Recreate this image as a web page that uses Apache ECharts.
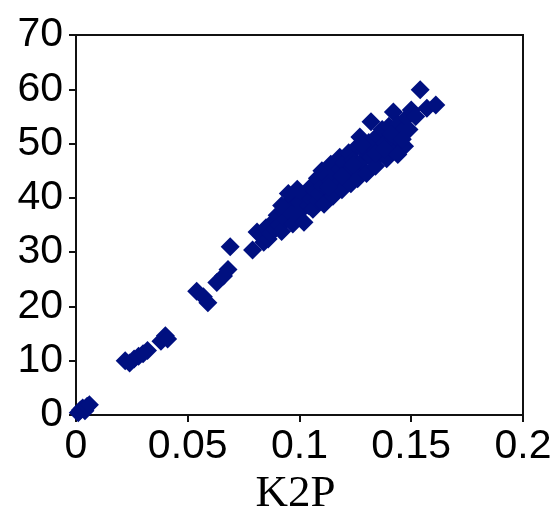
<!DOCTYPE html>
<html>
<head>
<meta charset="utf-8">
<script src="https://cdn.jsdelivr.net/npm/echarts@6/dist/echarts.min.js"></script>
<style>
  html, body { margin: 0; padding: 0; background: #fff; }
  #chart { width: 559px; height: 510px; }
</style>
</head>
<body>
<div id="chart"></div>
<script>
// K2P distance (x) vs value (y)
const k2p = [
  0.001, 0.002, 0.003, 0.004, 0.005, 0.006,
  0.022, 0.024, 0.026, 0.028, 0.030, 0.032,
  0.038, 0.040, 0.041,
  0.054, 0.057, 0.059, 0.063, 0.066, 0.068, 0.069,
  0.079, 0.081, 0.083, 0.084, 0.085, 0.086, 0.087, 0.088, 0.089,
  0.090, 0.091, 0.092, 0.093, 0.094, 0.095, 0.096, 0.097, 0.097, 0.098, 0.099,
  0.100, 0.100, 0.101, 0.102, 0.103, 0.104, 0.105, 0.105, 0.106, 0.107, 0.108, 0.108, 0.109,
  0.110, 0.110, 0.111, 0.112, 0.113, 0.114, 0.114, 0.115, 0.116, 0.117, 0.118, 0.118, 0.119,
  0.120, 0.121, 0.122, 0.122, 0.123, 0.124, 0.125, 0.126, 0.126, 0.127, 0.128, 0.129,
  0.130, 0.131, 0.132, 0.132, 0.133, 0.134, 0.135, 0.136, 0.137, 0.138, 0.139,
  0.140, 0.141, 0.142, 0.142, 0.143, 0.144, 0.145, 0.146, 0.147, 0.148,
  0.150, 0.152, 0.154, 0.157, 0.161,
  0.134, 0.138, 0.141, 0.144, 0.146, 0.149, 0.128, 0.124, 0.119, 0.113,
  0.092, 0.095, 0.099
];
const values = [
  0.4, 0.9, 1.3, 0.8, 1.6, 1.9,
  10.0, 9.6, 10.3, 10.8, 11.3, 11.9,
  13.6, 14.6, 14.0,
  22.8, 21.8, 20.7, 24.4, 25.6, 26.8, 31.0,
  30.4, 33.7, 33.0, 31.8, 34.5, 32.4, 33.5, 35.5, 34.2,
  36.8, 35.0, 33.8, 37.5, 36.0, 39.0, 37.2, 35.2, 40.5, 38.3, 36.6,
  41.0, 39.2, 37.8, 35.5, 40.2, 38.6, 42.0, 39.8, 37.9, 41.3, 43.6, 39.5, 40.8,
  45.0, 42.2, 38.8, 44.0, 41.6, 46.2, 43.0, 40.3, 44.8, 42.5, 47.5, 45.3, 41.5,
  46.4, 43.8, 48.3, 44.9, 42.6, 47.0, 45.6, 49.5, 43.5, 51.2, 46.8, 48.6,
  44.5, 50.2, 47.5, 54.0, 49.3, 45.8, 51.5, 48.0, 52.6, 50.0, 47.2,
  53.2, 49.2, 55.8, 51.0, 48.5, 53.5, 50.5, 52.3, 49.5, 54.8,
  56.2, 55.0, 59.9, 56.5, 57.1,
  48.2, 49.0, 51.8, 48.0, 50.8, 52.6, 49.8, 46.0, 44.0, 42.0,
  38.6, 40.8, 41.6
];
const xTicks = { min: 0, max: 0.2, interval: 0.05 };
const yTicks = { min: 0, max: 70, interval: 10 };

const points = k2p.map((x, i) => [x, values[i]]);

const myChart = echarts.init(document.getElementById('chart'));
myChart.setOption({
  backgroundColor: '#ffffff',
  animation: false,
  grid: {
    left: 76,
    right: 36,
    top: 35,
    bottom: 95,
    outerBoundsMode: 'none',
    show: true,
    borderColor: '#111',
    borderWidth: 2,
    backgroundColor: 'transparent'
  },
  xAxis: {
    type: 'value',
    min: xTicks.min,
    max: xTicks.max,
    interval: xTicks.interval,
    name: 'K2P',
    nameLocation: 'middle',
    nameGap: 50,
    nameTextStyle: { fontFamily: 'Liberation Serif', fontSize: 45, color: '#000', padding: [0, 8, 0, 0] },
    axisLine: { show: true, onZero: false, lineStyle: { color: '#111', width: 2 } },
    axisTick: { show: true, length: 7, lineStyle: { color: '#111', width: 2 } },
    axisLabel: {
      show: true,
      margin: 11,
      fontFamily: 'Liberation Sans',
      fontSize: 41,
      color: '#000',
      showMinLabel: true,
      showMaxLabel: true
    },
    splitLine: { show: false }
  },
  yAxis: {
    type: 'value',
    min: yTicks.min,
    max: yTicks.max,
    interval: yTicks.interval,
    axisLine: { show: true, onZero: false, lineStyle: { color: '#111', width: 2 } },
    axisTick: { show: true, length: 7, lineStyle: { color: '#111', width: 2 } },
    axisLabel: {
      show: true,
      margin: 13,
      fontFamily: 'Liberation Sans',
      fontSize: 41,
      color: '#000',
      padding: [0, 0, 18, 0],
      showMinLabel: true,
      showMaxLabel: true
    },
    splitLine: { show: false }
  },
  series: [
    {
      type: 'scatter',
      data: points,
      symbol: 'diamond',
      symbolSize: 19,
      itemStyle: { color: '#001080', opacity: 1 }
    }
  ]
});
</script>
</body>
</html>
